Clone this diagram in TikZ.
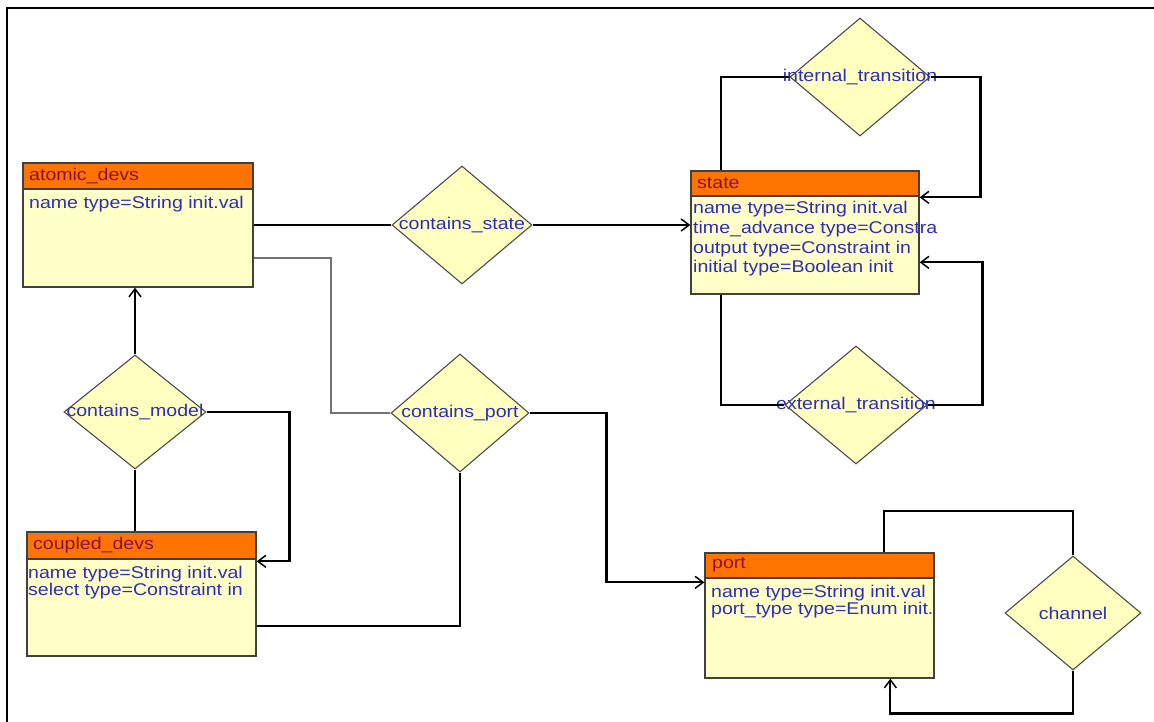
\documentclass[tikz,border=0pt]{standalone}
\usepackage{fontspec}
\setmainfont[FakeStretch=1.15]{Liberation Sans}
\usetikzlibrary{shapes.geometric,arrows.meta,calc}
\definecolor{hdr}{HTML}{FF7400}
\definecolor{bodyy}{HTML}{FFFFC8}
\definecolor{dia}{HTML}{FFFFC0}
\definecolor{txtblue}{HTML}{2E2EB8}
\definecolor{hdrtxt}{HTML}{8A1040}
\begin{document}
\begin{tikzpicture}[x=1pt,y=-1pt,
  classbox/.style={draw=black!75, line width=1.3pt, fill=bodyy, minimum width=230pt, minimum height=124pt, inner sep=0pt},
  hdrbox/.style={draw=black!75, line width=1.3pt, fill=hdr, minimum width=230pt, minimum height=26pt, anchor=north west, inner sep=0pt},
  hdrtext/.style={anchor=west, inner sep=0pt, text=hdrtxt, font=\fontsize{17}{19}\selectfont},
  attr/.style={anchor=west, inner sep=0pt, text=txtblue, font=\fontsize{17}{19}\selectfont},
  diam/.style={diamond, draw=black!70, line width=1.1pt, fill=dia, inner sep=0pt, minimum width=140pt, minimum height=118pt},
  dlabel/.style={inner sep=0pt, text=txtblue, font=\fontsize{17}{19}\selectfont},
  conn/.style={draw=black, line width=2.2pt},
  arr/.style={-{Straight Barb[length=8pt,width=12pt,line width=1.5pt]}},
]
\useasboundingbox (0,0) rectangle (1154,722);
\fill[white] (0,0) rectangle (1154,722);
\draw[line width=1.3pt] (7,722) -- (7,8) -- (1154,8);

% class boxes
\node[classbox] (atomic) at (138,225) {};
\node[hdrbox] (atomichd) at (atomic.north west) {};
\node[hdrtext] (atomict) at (29,176) {atomic\_devs};
\node[attr] (atomic1) at (29,204) {name type=String init.val};

\node[classbox, minimum width=228pt, minimum height=123pt] (state) at (805,232.5) {};
\node[hdrbox, minimum width=228pt, minimum height=25pt] (statehd) at (state.north west) {};
\node[hdrtext] (statet) at (697,183) {state};
\node[attr] (state1) at (693,209) {name type=String init.val};
\node[attr] (state2) at (693,229) {time\_advance type=Constra};
\node[attr] (state3) at (693,249) {output type=Constraint in};
\node[attr] (state4) at (693,268) {initial type=Boolean init};

\node[classbox, minimum width=229pt] (coupled) at (141.5,594) {};
\node[hdrbox, minimum width=229pt, minimum height=27pt] (coupledhd) at (coupled.north west) {};
\node[hdrtext] (coupledt) at (33,545) {coupled\_devs};
\node[attr] (coupled1) at (28,574) {name type=String init.val};
\node[attr] (coupled2) at (28,591) {select type=Constraint in};

\node[classbox, minimum width=229pt, minimum height=125pt] (port) at (819.5,615.5) {};
\node[hdrbox, minimum width=229pt, minimum height=25pt] (porthd) at (port.north west) {};
\node[hdrtext] (portt) at (712,565) {port};
\node[attr] (port1) at (711,593) {name type=String init.val};
\node[attr] (port2) at (711,610) {port\_type type=Enum init.};

% diamonds
\node[diam] (cs) at (462,225) {};
\node[dlabel] at (cs) {contains\_state};
\node[diam, minimum width=138pt] (cp) at (460,413) {};
\node[dlabel] at (cp) {contains\_port};
\node[diam, minimum width=142pt, minimum height=114pt] (cm) at (135,412) {};
\node[dlabel] at (cm) {contains\_model};
\node[diam] (it) at (860,77) {};
\node[dlabel] at (it) {internal\_transition};
\node[diam, minimum width=142pt] (et) at (856,405) {};
\node[dlabel] at (et) {external\_transition};
\node[diam, minimum width=136pt, minimum height=114pt] (ch) at (1073,613) {};
\node[dlabel] at (ch) {channel};

% connectors
\draw[conn] (atomic.east |- cs.west) -- (cs.west);
\draw[conn,arr] (cs.east) -- (cs.east -| state.west);
\draw[conn,draw=black!55,line width=1.8pt] ([yshift=-33pt]atomic.east) -- ++(77,0) |- (cp.west);
\draw[conn,arr] (cp.east) -- ++(77,0) |- ([yshift=-30pt]port.north west);
\draw[conn] (cp.south) |- ([yshift=-32pt]coupled.east);
\draw[conn,arr] (cm.north) -- (cm.north |- atomic.south);
\draw[conn] (cm.south) -- (cm.south |- coupled.north);
\draw[conn,arr] (cm.east) -- ++(83,0) |- ([yshift=-30pt]coupled.north east);
\draw[conn] (it.west) -| ([xshift=31pt]state.north west);
\draw[conn,arr] (it.east) -- ++(50,0) |- ([yshift=-27pt]state.north east);
\draw[conn] ([xshift=31pt]state.south west) |- (et.west);
\draw[conn,arr] (et.east) -- ++(55,0) |- ([yshift=-92pt]state.north east);
\draw[conn] ([xshift=180pt]port.north west) -- ++(0,-41) -| (ch.north);
\draw[conn,arr] (ch.south) -- ++(0,43) -| ([xshift=186pt]port.south west);
\end{tikzpicture}
\end{document}
